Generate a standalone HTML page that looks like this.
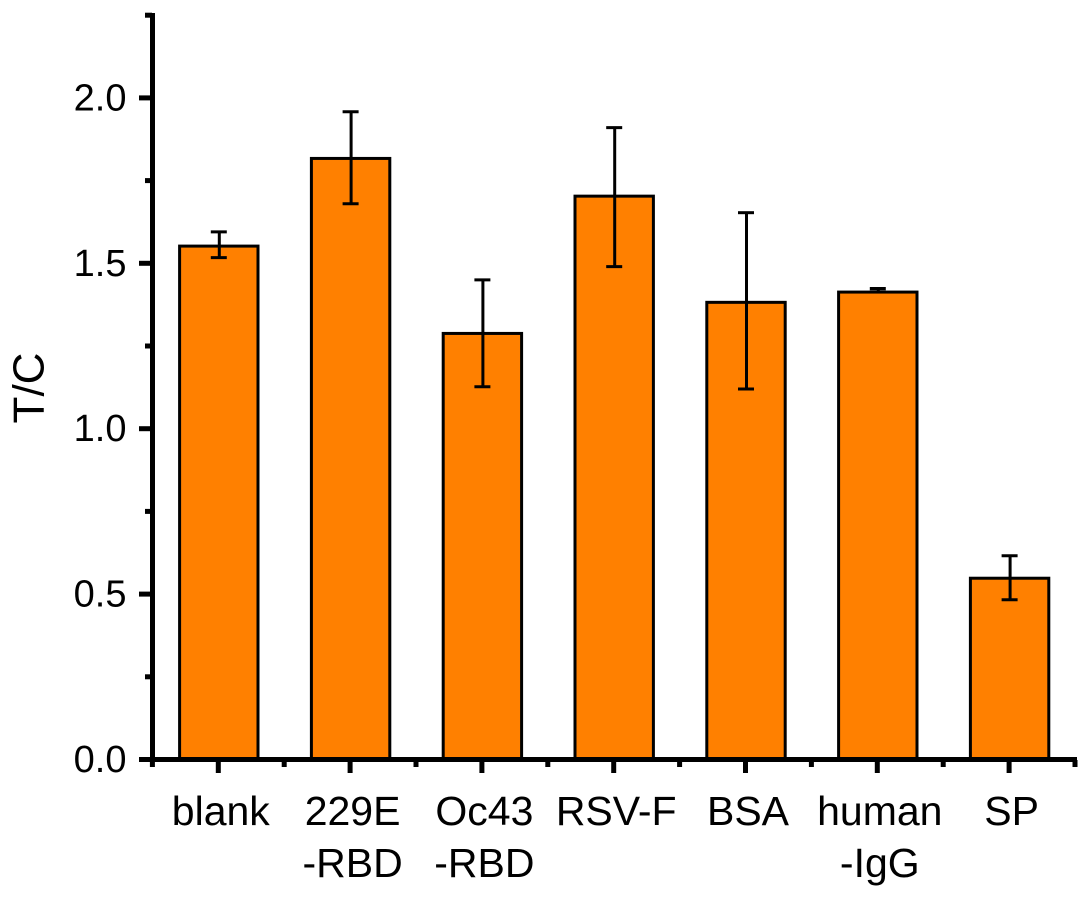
<!DOCTYPE html>
<html>
<head>
<meta charset="utf-8">
<title>T/C bar chart</title>
<style>
html,body{margin:0;padding:0;background:#fff;}
svg{display:block;}
text{font-family:"Liberation Sans",Arial,sans-serif;fill:#000;}
</style>
</head>
<body>
<svg id="chart" xmlns="http://www.w3.org/2000/svg" width="1090" height="899" viewBox="0 0 1090 899"></svg>
<script>
const categories = [["blank"], ["229E", "-RBD"], ["Oc43", "-RBD"], ["RSV-F"], ["BSA"], ["human", "-IgG"], ["SP"]];
const values = [1.552, 1.817, 1.288, 1.703, 1.382, 1.413, 0.548];
const errorUpper = [1.595, 1.958, 1.45, 1.91, 1.653, 1.424, 0.616];
const errorLower = [1.517, 1.68, 1.127, 1.49, 1.12, 1.414, 0.483];
const yTickLabels = ["0.0", "0.5", "1.0", "1.5", "2.0"];
const yMinorTicks = [0.25, 0.75, 1.25, 1.75, 2.25];

const svg = document.getElementById('chart');
const NS = 'http://www.w3.org/2000/svg';
const yScale = v => 759.5 - v * 330.8;
const xScale = i => 218.3 + i * 131.8;

function make(tag, attrs) {
  const el = document.createElementNS(NS, tag);
  for (const k in attrs) el.setAttribute(k, attrs[k]);
  svg.appendChild(el);
  return el;
}

// bars
categories.forEach((c, i) => {
  const top = yScale(values[i]);
  const bar = make('rect', {x: xScale(i) - 38.7, y: top, width: 78.4, height: yScale(0) - top, fill: '#FF8000', stroke: '#000', 'stroke-width': 3});
  
  
});

// error bars
categories.forEach((c, i) => {
  const cx = xScale(i);
  const up = yScale(errorUpper[i]);
  const lo = yScale(errorLower[i]);
  const stem = make('line', {x1: cx + 1, x2: cx + 1, y1: up, y2: lo, stroke: '#000', 'stroke-width': 3});
  
  
  const capTop = make('line', {x1: cx - 7.5, x2: cx + 8.5, y1: up, y2: up, stroke: '#000', 'stroke-width': 3});
  
  
  const capLow = make('line', {x1: cx - 7.5, x2: cx + 8.5, y1: lo, y2: lo, stroke: '#000', 'stroke-width': 3});
  
  
});

// axes
const yAxis = make('line', {x1: 152.5, x2: 152.5, y1: 13, y2: 762, stroke: '#000', 'stroke-width': 5});


const xAxis = make('line', {x1: 139, x2: 1077, y1: 759.5, y2: 759.5, stroke: '#000', 'stroke-width': 5});



// y ticks
yTickLabels.forEach(label => {
  const v = parseFloat(label);
  const y = yScale(v);
  const tick = make('line', {x1: 139, x2: 152, y1: y, y2: y, stroke: '#000', 'stroke-width': 5});
  
  
  const t = make('text', {x: 126.5, y: y + 12.5, 'text-anchor': 'end', 'font-size': 38});
  
  
  t.textContent = label;
});
yMinorTicks.forEach(v => {
  const y = yScale(v);
  const tick = make('line', {x1: 145, x2: 152, y1: y, y2: y, stroke: '#000', 'stroke-width': 5});
  
  
});

// x ticks and labels
categories.forEach((c, i) => {
  const x = xScale(i);
  const tick = make('line', {x1: x, x2: x, y1: 760, y2: 773, stroke: '#000', 'stroke-width': 5});
  
  
  c.forEach((line, j) => {
    const t = make('text', {x: x + 2.5, y: 825 + j * 52, 'text-anchor': 'middle', 'font-size': 41});
    
    
    t.textContent = line;
  });
});
for (let i = -1; i < categories.length; i++) {
  const x = xScale(i + 0.5);
  const minor = make('line', {x1: x, x2: x, y1: 760, y2: 767, stroke: '#000', 'stroke-width': 5});
  
  
}

// y-axis title
const title = make('text', {transform: 'translate(43.5 388) rotate(-90)', 'text-anchor': 'middle', 'font-size': 44});


title.textContent = 'T/C';
</script>
</body>
</html>
